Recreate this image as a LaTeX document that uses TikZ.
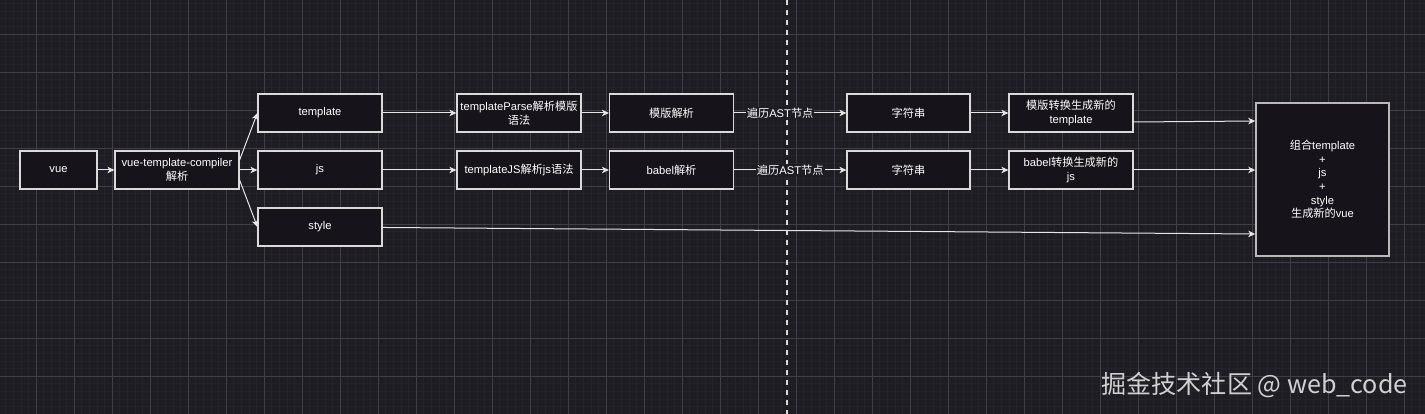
\documentclass[tikz,border=0pt]{standalone}
\usepackage{fontspec}
\setmainfont{Liberation Sans}
\newfontfamily\cjk{Noto Sans CJK SC}
\newcommand{\zh}[1]{{\cjk #1}}
\usepackage{tikz}
\usetikzlibrary{arrows.meta, positioning, calc}
\definecolor{canvas}{HTML}{1E1D24}
\definecolor{minorln}{HTML}{24232A}
\definecolor{majorln}{HTML}{3F3E46}
\definecolor{boxfill}{HTML}{16141A}
\definecolor{boxedge}{HTML}{DADADA}
\definecolor{wire}{HTML}{E6E6E6}

\begin{document}
\begin{tikzpicture}[
  x=1pt, y=-1pt,
  box/.style={draw=boxedge, fill=boxfill, line width=1.2pt, minimum width=#1, minimum height=38pt, inner sep=0pt,
    text=white, align=center, font=\fontsize{11.2}{13.6}\selectfont},
  box/.default=124pt,
  arr/.style={-{Stealth[length=7pt, width=6.5pt, inset=2pt]}, line width=1pt, draw=wire},
  lbl/.style={fill=canvas, text=white, inner sep=1pt, font=\fontsize{11.2}{13.6}\selectfont}
]
% Canvas and grid
\fill[canvas] (0,0) rectangle (1425,414);
\useasboundingbox (0,0) rectangle (1425,414);
\foreach \gx in {-2,5.6,...,1425} \draw[minorln, line width=0.6pt] (\gx,0) -- (\gx,414);
\foreach \gy in {3.6,11.2,...,414} \draw[minorln, line width=0.6pt] (0,\gy) -- (1425,\gy);
\foreach \gx in {36,74,...,1425} \draw[majorln, line width=0.8pt] (\gx,0) -- (\gx,414);
\foreach \gy in {34,72,...,414} \draw[majorln, line width=0.8pt] (0,\gy) -- (1425,\gy);

% Separator
\coordinate (cutT) at (787,0);
\coordinate (cutB) at (787,414);
\draw[boxedge, line width=1.6pt, dash pattern=on 5pt off 5pt] (cutT) -- (cutB);

% Source and split
\node[box=77pt] (vue) at (58.5,170) {vue};
\node[box] (comp) at (177,170) {vue-template-compiler\\\zh{解析}};
\node[box] (tpl) at (320,113) {template};
\node[box] (js) at (320,170) {js};
\node[box] (sty) at (320,227) {style};
\draw[arr] (vue) -- (comp);
\draw[arr] ([yshift=10pt]comp.east) -- (tpl.west);
\draw[arr] (comp) -- (js);
\draw[arr] ([yshift=-10pt]comp.east) -- (sty.west);

% Parsing
\node[box] (tplparse) at (519,113) {templateParse\zh{解析模版}\\\zh{语法}};
\node[box] (tpljs) at (519,170) {templateJS\zh{解析}js\zh{语法}};
\node[box] (mbjx) at (671.5,113) {\zh{模版解析}};
\node[box] (babel) at (671.5,170) {babel\zh{解析}};
\draw[arr] (tpl) -- (tplparse);
\draw[arr] (js) -- (tpljs);
\draw[arr] (tplparse) -- (mbjx);
\draw[arr] (tpljs) -- (babel);

% Generation
\node[box=123pt] (str1) at (908.5,113) {\zh{字符串}};
\node[box=123pt] (str2) at (908.5,170) {\zh{字符串}};
\node[box] (newtpl) at (1071,113) {\zh{模版转换生成新的}\\template};
\node[box] (newjs) at (1071,170) {babel\zh{转换生成新的}\\js};
\draw[arr] (mbjx) -- (str1) node[lbl, pos=0.41] {\zh{遍历}AST\zh{节点}};
\draw[arr] (babel) -- (str2) node[lbl, midway] {\zh{遍历}AST\zh{节点}};
\draw[arr] (str1) -- (newtpl);
\draw[arr] (str2) -- (newjs);

% Merge
\node[box=133pt, minimum height=153pt, draw=boxedge!85!black, line width=1.5pt] (big) at (1322.5,179.5)
  {\zh{组合}template\\+\\js\\+\\style\\\zh{生成新的}vue};
\draw[arr] ([yshift=-9pt]newtpl.east) -- ([yshift=58.5pt]big.west);
\draw[arr] (newjs) -- ([yshift=9.5pt]big.west);
\draw[arr] (sty) -- ([yshift=-54.5pt]big.west);

% Watermark
\node[text=white!82!black, font=\cjk\fontsize{25.1}{28}\selectfont, anchor=east] (mark) at (1411,385) {掘金技术社区 @ web\_code};
\end{tikzpicture}
\end{document}
